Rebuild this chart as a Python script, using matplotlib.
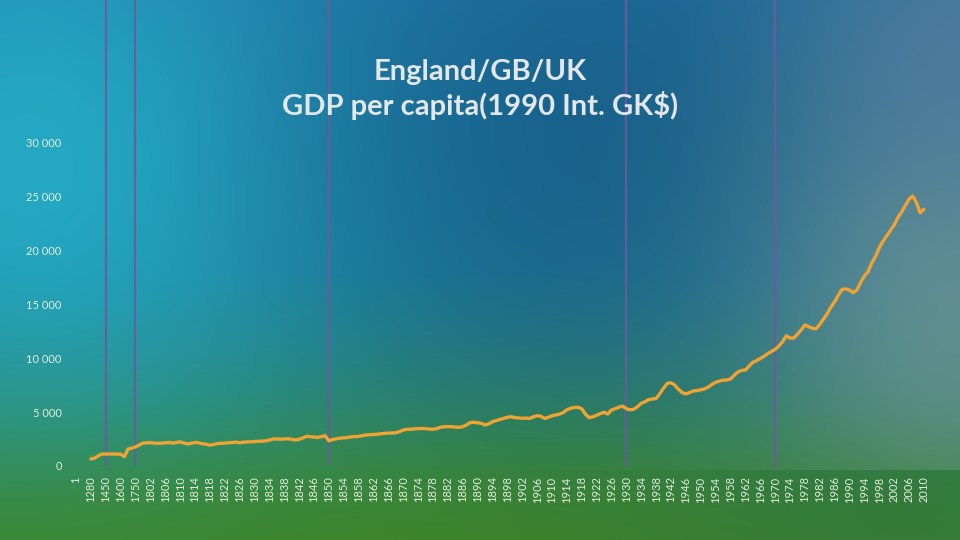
import numpy as np
import matplotlib
matplotlib.use("Agg")
import matplotlib.pyplot as plt

# categories before the annual series (only some have values)
early_years = ["1", "725", "1000", "1090", "1280", "1300", "1348", "1400", "1450",
               "1500", "1550", "1570", "1600", "1650", "1700", "1720", "1750", "1770"]
early_gdp = [np.nan, np.nan, np.nan, np.nan, 650, 730, 950, 1100, 1110,
             1110, 1100, 1100, 1100, 860, 1570, 1650, 1760, 1950]

annual_years = list(range(1800, 2011))
annual_gdp = [
    2130, 2150, 2160, 2120, 2100, 2110, 2150, 2180, 2120, 2170,  # 1800s
    2230, 2130, 2040, 2100, 2180, 2150, 2060, 2020, 1930, 1990,  # 1810s
    2070, 2100, 2120, 2150, 2170, 2210, 2150, 2200, 2230, 2240,  # 1820s
    2260, 2290, 2300, 2330, 2400, 2500, 2510, 2480, 2500, 2530,  # 1830s
    2460, 2420, 2470, 2600, 2750, 2720, 2680, 2640, 2720, 2800,  # 1840s
    2330, 2450, 2520, 2580, 2610, 2640, 2700, 2720, 2740, 2800,  # 1850s
    2870, 2900, 2920, 2940, 2990, 3020, 3050, 3050, 3080, 3180,  # 1860s
    3330, 3400, 3400, 3440, 3460, 3470, 3460, 3420, 3400, 3460,  # 1870s
    3580, 3640, 3650, 3640, 3600, 3580, 3640, 3800, 4010, 4050,  # 1880s
    4000, 3950, 3800, 3900, 4100, 4200, 4300, 4400, 4510, 4560,  # 1890s
    4480, 4450, 4420, 4440, 4400, 4550, 4660, 4600, 4410, 4500,  # 1900s
    4650, 4720, 4800, 4940, 5200, 5340, 5420, 5440, 5300, 4800,  # 1910s
    4480, 4550, 4700, 4850, 4970, 4810, 5190, 5300, 5450, 5540,  # 1920s
    5300, 5200, 5250, 5500, 5800, 5950, 6150, 6200, 6250, 6700,  # 1930s
    7200, 7650, 7710, 7500, 7100, 6800, 6670, 6800, 6950, 6980,  # 1940s
    7050, 7130, 7300, 7550, 7750, 7850, 7950, 7960, 8050, 8400,  # 1950s
    8700, 8850, 8890, 9250, 9600, 9750, 9950, 10150, 10400, 10600,  # 1960s
    10800, 11100, 11500, 12050, 11850, 11850, 12200, 12600, 13060, 12900,  # 1970s
    12750, 12700, 13100, 13600, 14100, 14700, 15200, 15800, 16350, 16400,  # 1980s
    16300, 16050, 16300, 17000, 17600, 18000, 18800, 19400, 20200, 20800,  # 1990s
    21300, 21800, 22300, 23000, 23500, 24100, 24700, 25000, 24400, 23450,  # 2000s
    23770,
]

categories = early_years + [str(y) for y in annual_years]
gdp = early_gdp + annual_gdp
marked_years = ["1450", "1750", "1850", "1930", "1970"]
y_ticks = [0, 5000, 10000, 15000, 20000, 25000, 30000]

W, H = 960, 540
fig = plt.figure(figsize=(W / 100, H / 100), dpi=100)

# background gradient
yy, xx = np.mgrid[0:H, 0:W].astype(float)
t = yy / H
top = np.array([35, 118, 168.0])
mid = np.array([32, 122, 150.0])
low = np.array([50, 132, 85.0])
bot = np.array([62, 130, 40.0])
img = np.zeros((H, W, 3))
for c in range(3):
    img[..., c] = np.interp(t, [0, 0.5, 0.8, 1.0], [top[c], mid[c], low[c], bot[c]])


def blob(img, cx, cy, sx, sy, color, strength, mask=None):
    w = strength * np.exp(-(((xx - cx) / sx) ** 2 + ((yy - cy) / sy) ** 2) / 2)
    if mask is not None:
        w = w * mask
    return img * (1 - w[..., None]) + np.array(color, float) * w[..., None]


above_axis = (yy < 470).astype(float)
img = blob(img, 60, 160, 220, 200, (38, 182, 205), 0.85)
img = blob(img, 640, 140, 260, 180, (18, 86, 130), 0.7)
img = blob(img, 960, 300, 150, 170, (112, 150, 148), 0.8, above_axis)
img = blob(img, 960, 40, 120, 120, (90, 125, 160), 0.6)
img = blob(img, 480, 530, 400, 60, (62, 135, 40), 0.6)
img = blob(img, 900, 520, 200, 80, (45, 115, 65), 0.5, 1 - above_axis)

bg = fig.add_axes([0, 0, 1, 1])
bg.imshow(np.clip(img, 0, 255).astype(np.uint8), aspect="auto")
bg.axis("off")

# main chart
ax = fig.add_axes([70 / W, (H - 466) / H, 865 / W, 466 / H])
ax.patch.set_alpha(0)
x = np.arange(len(categories))
ax.plot(x, gdp, color="#f0a232", linewidth=2.4, solid_capstyle="round")

for yr in marked_years:
    ax.axvline(categories.index(yr), color="#6b5b9e", linewidth=1.6, alpha=0.9, zorder=0)

ax.set_xlim(-1.61, 231)
ax.set_ylim(0, 43150)
ax.set_yticks(y_ticks)
ax.set_yticklabels([f"{v:,}".replace(",", " ") for v in y_ticks])
ax.set_xticks(x[::4])
ax.set_xticklabels(categories[::4], rotation=90)
ax.tick_params(length=0, colors="#e4eee0", labelsize=8)
ax.tick_params(axis="y", pad=6)
ax.tick_params(axis="x", pad=7.5)
for lab in ax.get_xticklabels() + ax.get_yticklabels():
    lab.set_fontfamily("Lato")
for s in ax.spines.values():
    s.set_visible(False)

fig.text(0.5, 1 - 72 / H, "England/GB/UK", ha="center", va="center",
         fontsize=21, fontweight="bold", color="#e3e7ea", family="Lato")
fig.text(0.5, 1 - 106 / H, r"GDP per capita(1990 Int. GK\$)", ha="center", va="center",
         fontsize=21, fontweight="bold", color="#e3e7ea", family="Lato")

fig.savefig("out.png", dpi=100)
